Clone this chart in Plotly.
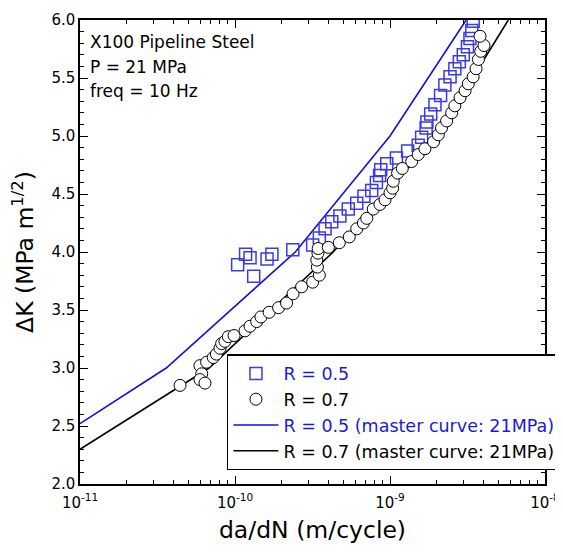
import plotly.graph_objects as go

# R = 0.5 measured data (da/dN in m/cycle, Delta K in MPa m^1/2)
r05_dadn = [1.04e-10, 1.17e-10, 1.25e-10, 1.32e-10, 1.61e-10, 1.73e-10, 2.36e-10, 3.17e-10,
            3.50e-10, 3.81e-10, 4.21e-10, 4.75e-10, 5.38e-10, 6.10e-10, 6.79e-10, 7.62e-10,
            8.17e-10, 8.57e-10, 8.71e-10, 9.53e-10, 1.10e-9, 1.30e-9, 1.52e-9, 1.60e-9,
            1.71e-9, 1.73e-9, 1.83e-9, 1.95e-9, 2.12e-9, 2.26e-9, 2.44e-9, 2.62e-9,
            2.80e-9, 2.97e-9, 3.16e-9, 3.28e-9, 3.37e-9, 3.44e-9]
r05_dk = [3.89, 3.98, 3.95, 3.79, 3.94, 3.98, 4.02, 4.06,
          4.12, 4.20, 4.26, 4.31, 4.37, 4.42, 4.48, 4.53,
          4.60, 4.66, 4.71, 4.76, 4.81, 4.87, 4.92, 4.99,
          5.07, 5.12, 5.19, 5.27, 5.35, 5.44, 5.51, 5.58,
          5.64, 5.70, 5.77, 5.84, 5.91, 5.99]

# R = 0.7 measured data
r07_dadn = [4.42e-11, 5.94e-11, 6.10e-11, 5.94e-11, 6.40e-11, 6.56e-11, 7.24e-11, 7.59e-11,
            8.00e-11, 8.20e-11, 8.61e-11, 9.06e-11, 9.86e-11, 1.16e-10, 1.25e-10, 1.38e-10,
            1.47e-10, 1.66e-10, 1.91e-10, 2.15e-10, 2.37e-10, 2.69e-10, 3.17e-10, 3.50e-10,
            3.40e-10, 3.37e-10, 3.43e-10, 3.44e-10, 4.00e-10, 4.71e-10, 5.46e-10, 6.10e-10,
            6.73e-10, 7.08e-10, 7.80e-10, 8.61e-10, 9.29e-10, 1.00e-9, 1.04e-9, 1.05e-9,
            1.12e-9, 1.20e-9, 1.38e-9, 1.52e-9, 1.68e-9, 1.91e-9, 2.05e-9, 2.15e-9,
            2.32e-9, 2.50e-9, 2.62e-9, 2.83e-9, 3.05e-9, 3.20e-9, 3.44e-9, 3.59e-9,
            3.72e-9, 3.85e-9, 4.04e-9, 3.81e-9]
r07_dk = [2.85, 3.02, 2.95, 2.90, 2.87, 3.05, 3.09, 3.12,
          3.17, 3.21, 3.23, 3.27, 3.28, 3.32, 3.36, 3.40,
          3.44, 3.48, 3.52, 3.56, 3.64, 3.70, 3.74, 3.80,
          3.87, 3.93, 3.99, 4.03, 4.04, 4.08, 4.13, 4.20,
          4.25, 4.29, 4.37, 4.41, 4.45, 4.51, 4.55, 4.61,
          4.68, 4.72, 4.78, 4.84, 4.89, 4.95, 5.01, 5.07,
          5.13, 5.20, 5.26, 5.33, 5.39, 5.45, 5.51, 5.58,
          5.66, 5.73, 5.78, 5.86]

# Master curves (21 MPa)
m05_dadn = [1e-11, 3.6e-11, 2.45e-10, 1.0e-9, 3.1e-9]
m05_dk = [2.52, 3.0, 4.0, 5.0, 6.0]
m07_dadn = [1e-11, 6.8e-11, 4.3e-10, 2.0e-9, 5.8e-9]
m07_dk = [2.30, 3.0, 4.0, 5.0, 6.0]

x_tickvals = [1e-11, 1e-10, 1e-9, 1e-8]
x_ticktext = ["10<sup>-11</sup>", "10<sup>-10</sup>", "10<sup>-9</sup>", "10<sup>-8</sup>"]

BLUE = "#1010e0"
FONT = "DejaVu Sans"

fig = go.Figure()
# lines first (drawn beneath markers), legend order controlled by legendrank
fig.add_trace(go.Scatter(
    x=m05_dadn, y=m05_dk, mode="lines", legendrank=3,
    name='<span style="color:#1a1ad8">R = 0.5 (master curve: 21MPa)</span>',
    line=dict(color=BLUE, width=1.6),
))
fig.add_trace(go.Scatter(
    x=m07_dadn, y=m07_dk, mode="lines", legendrank=4,
    name="R = 0.7 (master curve: 21MPa)",
    line=dict(color="black", width=1.6),
))
fig.add_trace(go.Scatter(
    x=r05_dadn, y=r05_dk, mode="markers", legendrank=1,
    name='<span style="color:#1a1ad8">R = 0.5</span>',
    marker=dict(symbol="square-open", size=12, color="#3a3ae8", line=dict(width=1.5)),
))
fig.add_trace(go.Scatter(
    x=r07_dadn, y=r07_dk, mode="markers", legendrank=2,
    name="R = 0.7",
    marker=dict(symbol="circle", size=12, color="white", line=dict(width=1, color="black")),
))

# page body adds an 8px offset; height kept so the page does not scroll vertically
fig.update_layout(
    width=555, height=536,
    margin=dict(l=72, r=18, t=12, b=60, autoexpand=False),
    plot_bgcolor="white", paper_bgcolor="white",
    font=dict(family=FONT, size=15, color="black"),
    showlegend=True,
    legend=dict(
        x=0.316, y=0.28, xanchor="left", yanchor="top",
        bgcolor="white", bordercolor="black", borderwidth=1.5,
        font=dict(size=17.5), itemwidth=45, traceorder="normal",
    ),
)

fig.update_xaxes(
    type="log", range=[-11, -8],
    tickmode="array", tickvals=x_tickvals, ticktext=x_ticktext,
    ticks="inside", ticklen=8, tickwidth=1.2, tickcolor="black",
    showline=True, linecolor="black", linewidth=1.5, mirror="allticks",
    showgrid=False, zeroline=False,
    minor=dict(ticks="inside", ticklen=4, tickcolor="black", dtick="D1", showgrid=False),
    title=dict(text="da/dN (m/cycle)", font=dict(size=23.5)),
    tickfont=dict(size=15), ticklabelstandoff=4,
)
fig.update_yaxes(
    range=[2, 6], dtick=0.5, tickformat=".1f",
    ticks="inside", ticklen=8, tickwidth=1.2, tickcolor="black",
    showline=True, linecolor="black", linewidth=1.5, mirror="allticks",
    showgrid=False, zeroline=False,
    minor=dict(ticks="inside", ticklen=4, tickcolor="black", dtick=0.1, showgrid=False),
    title=dict(text="ΔK (MPa m<sup>1/2</sup>)", font=dict(size=23.5)),
    tickfont=dict(size=15),
)

ann_lines = ["X100 Pipeline Steel", "P = 21 MPa", "freq = 10 Hz"]
for i, t in enumerate(ann_lines):
    fig.add_annotation(
        text=t, xref="paper", yref="paper",
        x=0.018, y=(484 - 42 - i * 24.5) / 464, xanchor="left", yanchor="middle",
        showarrow=False, font=dict(size=17, family=FONT),
    )

fig.write_html("out.html")
